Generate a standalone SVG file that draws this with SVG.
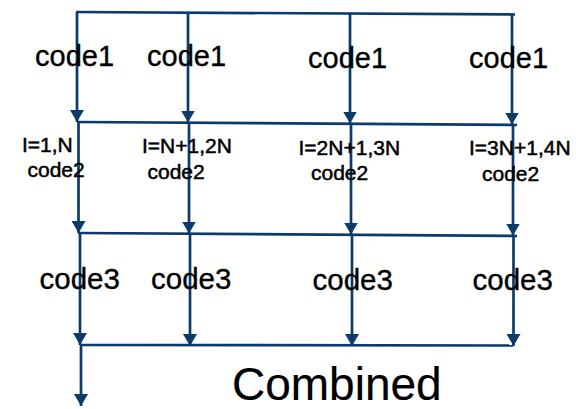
<svg xmlns="http://www.w3.org/2000/svg" width="576" height="409" viewBox="0 0 576 409">
  <defs>
    <marker id="arr" viewBox="0 0 12 14" refX="12" refY="7" markerWidth="12" markerHeight="14" markerUnits="userSpaceOnUse" orient="auto">
      <path d="M0,0 L12,7 L0,14 z" fill="#0b3a6b"/>
    </marker>
    <style>
      .ln { stroke: #0b3a6b; stroke-width: 2.7; fill: none; }
      .ar { marker-end: url(#arr); }
      text { font-family: "Liberation Sans", Arial, sans-serif; fill: #000; stroke: #000; }
      .c1 { font-size: 29px; stroke-width: 0.35px; }
      .c2 { font-size: 21px; stroke-width: 0.5px; }
      .c3 { font-size: 29.5px; stroke-width: 0.35px; }
      .big { font-size: 46px; stroke-width: 0.2px; }
    </style>
  </defs>
  <rect width="576" height="409" fill="#fff"/>

  <g id="connectors">
    <line class="ln" x1="76" y1="12" x2="515" y2="14.5"/>
    <line class="ln" x1="77" y1="122" x2="517" y2="125"/>
    <line class="ln" x1="78" y1="233" x2="517" y2="236"/>
    <line class="ln" x1="80" y1="345" x2="513" y2="345.5"/>
    <line class="ln ar" x1="77" y1="12" x2="77" y2="122"/>
    <line class="ln ar" x1="188" y1="12.5" x2="188" y2="122.5"/>
    <line class="ln ar" x1="350" y1="13.5" x2="350" y2="123.5"/>
    <line class="ln ar" x1="512" y1="14.5" x2="512" y2="124.5"/>
    <line class="ln ar" x1="78.5" y1="122" x2="78.5" y2="233"/>
    <line class="ln ar" x1="189" y1="122.5" x2="189" y2="233.5"/>
    <line class="ln ar" x1="351" y1="123.5" x2="351" y2="234.5"/>
    <line class="ln ar" x1="513" y1="125" x2="513" y2="235.5"/>
    <line class="ln ar" x1="80" y1="233" x2="80" y2="345"/>
    <line class="ln ar" x1="190" y1="233.5" x2="190" y2="346"/>
    <line class="ln ar" x1="352" y1="235" x2="352" y2="346"/>
    <line class="ln ar" x1="513.5" y1="236" x2="513.5" y2="346"/>
    <line class="ln ar" x1="81" y1="345" x2="81" y2="406"/>
  </g>

  <g id="code1-a"><text class="c1" x="35" y="66">code1</text></g>
  <g id="code1-b"><text class="c1" x="147" y="66">code1</text></g>
  <g id="code1-c"><text class="c1" x="308" y="68">code1</text></g>
  <g id="code1-d"><text class="c1" x="469" y="68">code1</text></g>

  <g id="code2-a"><text class="c2" x="22" y="152">I=1,N</text><text class="c2" x="27.5" y="177">code2</text></g>
  <g id="code2-b"><text class="c2" x="142" y="153">I=N+1,2N</text><text class="c2" x="147.5" y="178.5">code2</text></g>
  <g id="code2-c"><text class="c2" x="298.5" y="155">I=2N+1,3N</text><text class="c2" x="311" y="180">code2</text></g>
  <g id="code2-d"><text class="c2" x="469" y="155">I=3N+1,4N</text><text class="c2" x="482" y="180.5">code2</text></g>

  <g id="code3-a"><text class="c3" x="39.5" y="288.5">code3</text></g>
  <g id="code3-b"><text class="c3" x="151" y="288.5">code3</text></g>
  <g id="code3-c"><text class="c3" x="312.5" y="290">code3</text></g>
  <g id="code3-d"><text class="c3" x="472.5" y="290">code3</text></g>

  <g id="combined"><text class="big" x="232" y="399.5">Combined</text></g>
</svg>
